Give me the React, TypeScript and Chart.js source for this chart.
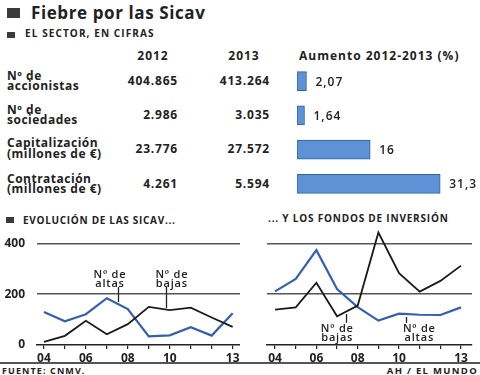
import React, { useEffect, useRef } from "react";
import { Chart, registerables } from "chart.js";

Chart.register(...registerables);

// ---- Data ----
const rowLabels = [
  ["Nº de", "accionistas"],
  ["Nº de", "sociedades"],
  ["Capitalización", "(millones de €)"],
  ["Contratación", "(millones de €)"],
];
const values2012 = ["404.865", "2.986", "23.776", "4.261"];
const values2013 = ["413.264", "3.035", "27.572", "5.594"];
const aumento = [2.07, 1.64, 16, 31.3];

const years = [2004, 2005, 2006, 2007, 2008, 2009, 2010, 2011, 2012, 2013];
const shownYears = [2004, 2006, 2008, 2010, 2013];
const yTicks = [0, 200, 400];
const sicavAltas = [130, 93, 121, 184, 141, 34, 38, 70, 37, 125];
const sicavBajas = [12, 36, 95, 42, 82, 150, 137, 147, 108, 71];
const fondosAltas = [211, 260, 373, 220, 149, 96, 123, 119, 118, 148];
const fondosBajas = [139, 148, 245, 113, 155, 442, 282, 210, 252, 312];

const FONT = '"Open Sans", "DejaVu Sans", sans-serif';
const INK = "#222";
const BLUE = "#3560b0";

type Annot = { lines: string[]; tx: number; ty: number; px: number; p1: number; p2: number };

const sicavAnnots: Annot[] = [
  { lines: ["Nº de", "altas"], tx: 2007.15, ty: 263, px: 2007.53, p1: 228, p2: 169 },
  { lines: ["Nº de", "bajas"], tx: 2010.1, ty: 263, px: 2009.82, p1: 228, p2: 145 },
];
const fondosAnnots: Annot[] = [
  { lines: ["Nº de", "bajas"], tx: 2007.01, ty: 52, px: 2007.45, p1: 122, p2: 87 },
  { lines: ["Nº de", "altas"], tx: 2010.98, ty: 52, px: 2010.35, p1: 110, p2: 87 },
];

const fmt = (v: number) => String(v).replace(".", ",");

function annotPlugin(items: Annot[]) {
  return {
    id: "annot",
    afterDatasetsDraw(chart: any) {
      const { ctx } = chart;
      const x = chart.scales.x;
      const y = chart.scales.y;
      ctx.save();
      ctx.font = `600 11px ${FONT}`;
      (ctx as any).letterSpacing = "0.8px";
      ctx.fillStyle = INK;
      ctx.textAlign = "center";
      ctx.textBaseline = "alphabetic";
      items.forEach((a) => {
        const tx = x.getPixelForValue(a.tx);
        const ty = y.getPixelForValue(a.ty);
        a.lines.forEach((l, i) => ctx.fillText(l, tx, ty + i * 9));
        const px = Math.round(x.getPixelForValue(a.px)) + 0.5;
        ctx.strokeStyle = INK;
        ctx.lineWidth = 1.3;
        ctx.beginPath();
        ctx.moveTo(px, y.getPixelForValue(a.p1));
        ctx.lineTo(px, y.getPixelForValue(a.p2));
        ctx.stroke();
      });
      ctx.restore();
    },
  };
}

const barLabelPlugin = {
  id: "barLabels",
  afterDatasetsDraw(chart: any) {
    const { ctx } = chart;
    const meta = chart.getDatasetMeta(0);
    ctx.save();
    ctx.font = `600 12px ${FONT}`;
    (ctx as any).letterSpacing = "1px";
    ctx.fillStyle = INK;
    ctx.textAlign = "left";
    ctx.textBaseline = "middle";
    meta.data.forEach((bar: any, i: number) => {
      ctx.fillText(fmt(aumento[i]), bar.x + 9, bar.y + 1);
    });
    ctx.restore();
  },
};

function lineConfig(altas: number[], bajas: number[], yWidth: number, xMin: number, xMax: number, padRight: number, showY: boolean, annots: Annot[]): any {
  return {
    type: "line",
    data: {
      datasets: [
        {
          data: bajas.map((v, i) => ({ x: years[i], y: v })),
          borderColor: "#1a1a1a",
          borderWidth: 1.8,
          pointRadius: 0,
          tension: 0,
        },
        {
          data: altas.map((v, i) => ({ x: years[i], y: v })),
          borderColor: BLUE,
          borderWidth: 2.2,
          pointRadius: 0,
          tension: 0,
        },
      ],
    },
    options: {
      responsive: false,
      animation: false,
      devicePixelRatio: 1,
      layout: { padding: { top: 3, right: padRight, left: 0, bottom: 0 } },
      plugins: { legend: { display: false }, tooltip: { enabled: false } },
      scales: {
        x: {
          type: "linear",
          min: xMin,
          max: xMax,
          afterBuildTicks: (s: any) => {
            s.ticks = years.map((v) => ({ value: v }));
          },
          afterFit: (s: any) => {
            s.height = 17;
            s.paddingLeft = 0;
            s.paddingRight = 0;
            s.paddingTop = 0;
            s.paddingBottom = 0;
          },
          ticks: {
            autoSkip: false,
            maxRotation: 0,
            padding: 2,
            color: INK,
            font: { family: FONT, size: 12, weight: "bold" },
            callback: (v: number) => (shownYears.includes(v) ? String(v).slice(2) : ""),
          },
          grid: { display: true, drawOnChartArea: false, drawTicks: true, tickLength: 4, color: INK, lineWidth: 1.2 },
          border: { display: true, color: INK, width: 1.6 },
        },
        y: {
          min: 0,
          max: 460,
          afterBuildTicks: (s: any) => {
            s.ticks = yTicks.map((v) => ({ value: v }));
          },
          afterFit: (s: any) => {
            s.width = yWidth;
            s.paddingTop = 0;
            s.paddingBottom = 0;
            s.paddingLeft = 0;
            s.paddingRight = 0;
          },
          ticks: {
            display: showY,
            padding: 12,
            color: INK,
            font: { family: FONT, size: 12, weight: "bold" },
          },
          grid: {
            drawTicks: false,
            color: (c: any) => (c.tick && c.tick.value === 0 ? "rgba(0,0,0,0)" : "#555"),
            lineWidth: 1.5,
          },
          border: { display: false },
        },
      },
    },
    plugins: [annotPlugin(annots)],
  };
}

export default function App() {
  const barRef = useRef<HTMLCanvasElement>(null);
  const leftRef = useRef<HTMLCanvasElement>(null);
  const rightRef = useRef<HTMLCanvasElement>(null);

  useEffect(() => {
    document.body.style.margin = "0";
    const bar = new Chart(barRef.current!, {
      type: "bar",
      data: {
        labels: rowLabels.map((r) => r.join(" ")),
        datasets: [
          {
            data: aumento,
            backgroundColor: "#5e92d6",
            borderColor: "#2f62a8",
            borderWidth: 1,
            barThickness: 19,
            borderSkipped: false,
          } as any,
        ],
      },
      options: {
        indexAxis: "y",
        responsive: false,
        animation: false,
        devicePixelRatio: 1,
        layout: { padding: { left: 7, right: 0, top: 0, bottom: 0 } },
        plugins: { legend: { display: false }, tooltip: { enabled: false } },
        scales: {
          x: { display: false, min: 0, max: 40 },
          y: { display: false },
        },
      } as any,
      plugins: [barLabelPlugin],
    });
    const left = new Chart(leftRef.current!, lineConfig(sicavAltas, sicavBajas, 37, 2003.67, 2013.35, 0, true, sicavAnnots));
    const right = new Chart(rightRef.current!, lineConfig(fondosAltas, fondosBajas, 27, 2003.61, 2013.53, 8, false, fondosAnnots));
    return () => {
      bar.destroy();
      left.destroy();
      right.destroy();
    };
  }, []);

  const abs = (s: React.CSSProperties): React.CSSProperties => ({ position: "absolute", ...s });
  const rowCenters = [81, 115, 148.5, 184];
  const valStyle = (left: number, width: number, c: number): React.CSSProperties =>
    abs({ left, width, top: c - 8, height: 16, fontSize: 12, lineHeight: "16px", fontWeight: 700, letterSpacing: 0.8, textAlign: "right" });

  return (
    <div
      style={{
        position: "fixed",
        left: 0,
        top: 0,
        width: 480,
        height: 375,
        background: "#fff",
        overflow: "hidden",
        fontFamily: FONT,
        color: INK,
      }}
    >
      {/* Title */}
      <div style={abs({ left: 7, top: 8, width: 13, height: 10, background: "#3a3a3a" })} />
      <div style={abs({ left: 31, top: 3.5, fontSize: 17, lineHeight: "17px", fontWeight: 700, letterSpacing: 0.6, whiteSpace: "nowrap" })}>
        Fiebre por las Sicav
      </div>
      <div style={abs({ left: 7, top: 32, width: 8, height: 6, background: "#3a3a3a" })} />
      <div style={abs({ left: 25, top: 28.3, fontSize: 10, lineHeight: "10px", fontWeight: 700, letterSpacing: 1.1, whiteSpace: "nowrap" })}>
        EL SECTOR, EN CIFRAS
      </div>

      {/* Table header */}
      <div style={abs({ left: 123, width: 60, top: 50, fontSize: 12, lineHeight: "12px", fontWeight: 700, letterSpacing: 1, textAlign: "center" })}>2012</div>
      <div style={abs({ left: 214, width: 60, top: 50, fontSize: 12, lineHeight: "12px", fontWeight: 700, letterSpacing: 1, textAlign: "center" })}>2013</div>
      <div style={abs({ left: 299, top: 50, fontSize: 12, lineHeight: "12px", fontWeight: 700, letterSpacing: 1, whiteSpace: "nowrap" })}>
        Aumento 2012-2013 (%)
      </div>

      {/* Table rows */}
      {rowLabels.map((lines, i) => (
        <React.Fragment key={i}>
          <div style={abs({ left: 7, top: rowCenters[i] - 10.5, fontSize: 12, lineHeight: "10.5px", fontWeight: 700, letterSpacing: 0.5, whiteSpace: "nowrap" })}>
            {lines[0]}
            <br />
            {lines[1]}
          </div>
          <div style={valStyle(90, 88, rowCenters[i])}>{values2012[i]}</div>
          <div style={valStyle(180, 90, rowCenters[i])}>{values2013[i]}</div>
        </React.Fragment>
      ))}
      <canvas ref={barRef} width={190} height={137} style={abs({ left: 290, top: 64, width: 190, height: 137 })} />

      {/* Bottom section titles */}
      <div style={abs({ left: 6, top: 217, width: 8, height: 6, background: "#3a3a3a" })} />
      <div style={abs({ left: 23, top: 215.3, fontSize: 10, lineHeight: "10px", fontWeight: 700, letterSpacing: 0.7, whiteSpace: "nowrap" })}>
        EVOLUCIÓN DE LAS SICAV...
      </div>
      <div style={abs({ left: 268, top: 213.3, fontSize: 10, lineHeight: "10px", fontWeight: 700, letterSpacing: 0.8, whiteSpace: "nowrap" })}>
        ... Y LOS FONDOS DE INVERSIÓN
      </div>

      <canvas ref={leftRef} width={240} height={137} style={abs({ left: 0, top: 225, width: 240, height: 137 })} />
      <canvas ref={rightRef} width={240} height={137} style={abs({ left: 240, top: 225, width: 240, height: 137 })} />

      {/* Footer */}
      <div style={abs({ left: 0, top: 362, width: 480, height: 1.5, background: "#555" })} />
      <div style={abs({ left: 2, top: 366, fontSize: 9, lineHeight: "9px", fontWeight: 700, letterSpacing: 1.1, whiteSpace: "nowrap" })}>FUENTE: CNMV.</div>
      <div style={abs({ right: 2, top: 365.5, fontSize: 9.5, lineHeight: "9.5px", fontWeight: 700, letterSpacing: 1.3, whiteSpace: "nowrap" })}>AH / EL MUNDO</div>
    </div>
  );
}
